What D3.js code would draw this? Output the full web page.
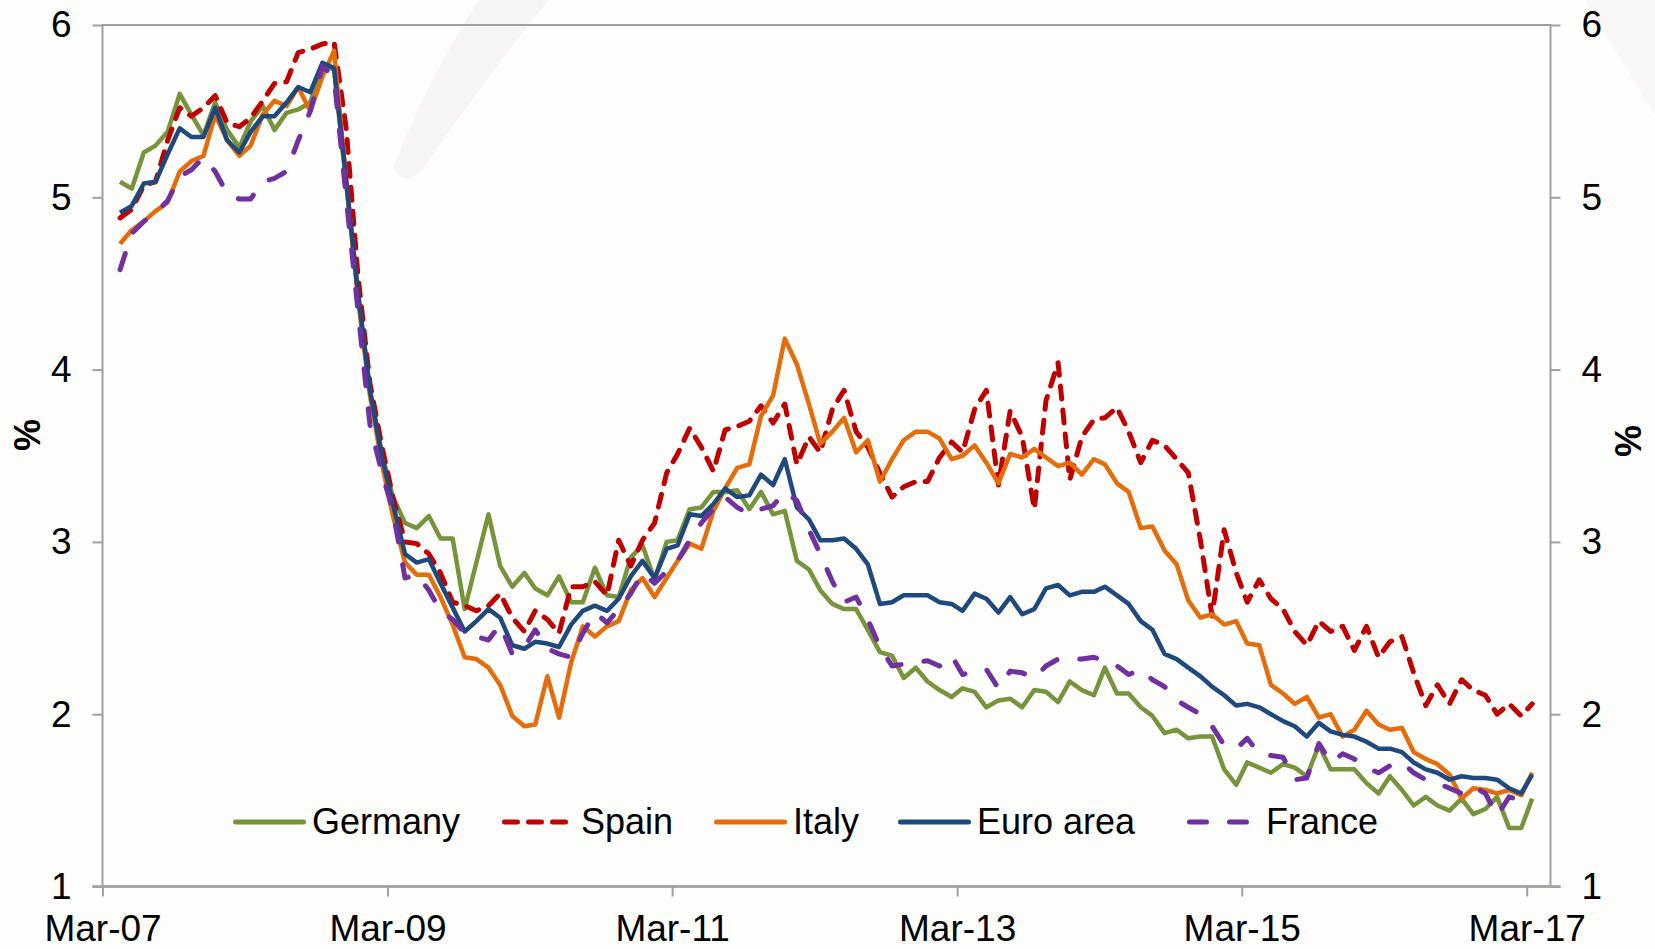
<!DOCTYPE html>
<html>
<head>
<meta charset="utf-8">
<script src="https://cdn.jsdelivr.net/npm/d3@7"></script>
<style>
  body { margin: 0; background: #fdfdfc; }
  svg text { font-family: "Liberation Sans", Arial, sans-serif; fill: #000; }
</style>
</head>
<body>
<svg id="chart" width="1655" height="949"></svg>
<script>
// monthly yields, Apr-07 .. Mar-17 (%)
var firstMonth = '2007-04';
var lastMonth = '2017-03';

var germany = [5.09, 5.05, 5.26, 5.30, 5.38, 5.60, 5.48, 5.36, 5.55, 5.39, 5.29, 5.44, 5.53, 5.39, 5.49, 5.51, 5.55, 5.77, 5.74, 5.08,
    4.45, 3.88, 3.51, 3.26, 3.11, 3.08, 3.15, 3.02, 3.02, 2.61, 2.88, 3.16, 2.86, 2.74, 2.82, 2.73, 2.69, 2.80, 2.65, 2.65,
    2.85, 2.69, 2.68, 2.91, 2.98, 2.78, 3.00, 3.01, 3.19, 3.20, 3.29, 3.29, 3.30, 3.19, 3.29, 3.16, 3.18, 2.89, 2.84, 2.72,
    2.64, 2.61, 2.61, 2.49, 2.36, 2.34, 2.21, 2.27, 2.19, 2.14, 2.10, 2.15, 2.13, 2.04, 2.08, 2.09, 2.04, 2.14, 2.13, 2.07,
    2.19, 2.14, 2.11, 2.27, 2.12, 2.12, 2.04, 1.99, 1.89, 1.91, 1.86, 1.87, 1.87, 1.68, 1.59, 1.72, 1.69, 1.66, 1.71, 1.69,
    1.64, 1.82, 1.68, 1.68, 1.68, 1.60, 1.54, 1.64, 1.56, 1.47, 1.52, 1.47, 1.44, 1.51, 1.42, 1.45, 1.52, 1.34, 1.34, 1.51];

var spain = [4.88, 4.93, 5.07, 5.09, 5.33, 5.52, 5.47, 5.52, 5.59, 5.43, 5.41, 5.46, 5.56, 5.66, 5.67, 5.84, 5.86, 5.89, 5.90, 5.40,
    4.55, 3.92, 3.55, 3.26, 3.00, 2.99, 2.93, 2.82, 2.65, 2.63, 2.60, 2.63, 2.70, 2.56, 2.48, 2.60, 2.55, 2.47, 2.74, 2.74,
    2.77, 2.69, 3.01, 2.86, 3.01, 3.11, 3.40, 3.51, 3.66, 3.55, 3.41, 3.65, 3.67, 3.70, 3.79, 3.69, 3.80, 3.45, 3.61, 3.52,
    3.77, 3.88, 3.64, 3.55, 3.40, 3.26, 3.32, 3.35, 3.35, 3.49, 3.58, 3.52, 3.77, 3.88, 3.33, 3.76, 3.61, 3.19, 3.82, 4.04,
    3.36, 3.61, 3.71, 3.72, 3.78, 3.64, 3.46, 3.59, 3.56, 3.48, 3.40, 3.01, 2.57, 3.07, 2.82, 2.65, 2.78, 2.67, 2.61, 2.48,
    2.40, 2.54, 2.48, 2.51, 2.37, 2.51, 2.33, 2.42, 2.45, 2.24, 2.05, 2.17, 2.06, 2.20, 2.14, 2.11, 2.00, 2.06, 1.99, 2.06];

var italy = [4.73, 4.81, 4.86, 4.92, 4.97, 5.15, 5.21, 5.24, 5.48, 5.33, 5.24, 5.30, 5.48, 5.56, 5.53, 5.64, 5.50, 5.70, 5.85, 5.10,
    4.42, 3.85, 3.45, 3.15, 2.88, 2.81, 2.81, 2.68, 2.52, 2.33, 2.32, 2.27, 2.17, 1.99, 1.93, 1.94, 2.22, 1.98, 2.30, 2.51,
    2.45, 2.51, 2.54, 2.72, 2.79, 2.68, 2.79, 2.89, 2.99, 2.96, 3.18, 3.31, 3.43, 3.45, 3.73, 3.85, 4.18, 4.03, 3.80, 3.57,
    3.64, 3.72, 3.52, 3.59, 3.35, 3.48, 3.59, 3.64, 3.64, 3.60, 3.48, 3.50, 3.56, 3.46, 3.34, 3.51, 3.49, 3.54, 3.49, 3.44,
    3.46, 3.39, 3.48, 3.45, 3.34, 3.29, 3.08, 3.09, 2.95, 2.87, 2.66, 2.56, 2.58, 2.52, 2.54, 2.41, 2.40, 2.17, 2.12, 2.06,
    2.10, 1.98, 2.00, 1.87, 1.91, 2.02, 1.94, 1.91, 1.92, 1.78, 1.74, 1.71, 1.65, 1.51, 1.57, 1.56, 1.54, 1.56, 1.53, 1.66];

var euroArea = [4.91, 4.95, 5.08, 5.09, 5.25, 5.40, 5.35, 5.35, 5.52, 5.33, 5.26, 5.38, 5.47, 5.47, 5.55, 5.64, 5.61, 5.78, 5.75, 5.10,
    4.45, 3.88, 3.49, 3.22, 2.93, 2.88, 2.90, 2.76, 2.62, 2.48, 2.54, 2.61, 2.56, 2.40, 2.38, 2.42, 2.41, 2.39, 2.52, 2.60,
    2.63, 2.60, 2.67, 2.80, 2.89, 2.79, 2.96, 2.98, 3.16, 3.15, 3.22, 3.31, 3.26, 3.27, 3.39, 3.33, 3.48, 3.20, 3.13, 3.01,
    3.01, 3.02, 2.96, 2.87, 2.64, 2.65, 2.69, 2.69, 2.69, 2.65, 2.64, 2.60, 2.70, 2.67, 2.59, 2.68, 2.58, 2.61, 2.73, 2.75,
    2.69, 2.71, 2.71, 2.74, 2.69, 2.64, 2.54, 2.49, 2.35, 2.32, 2.27, 2.22, 2.16, 2.11, 2.05, 2.06, 2.04, 2.00, 1.96, 1.93,
    1.87, 1.95, 1.90, 1.88, 1.87, 1.84, 1.80, 1.80, 1.78, 1.72, 1.68, 1.66, 1.62, 1.64, 1.63, 1.63, 1.62, 1.57, 1.54, 1.65];

var france = [4.58, 4.79, 4.86, 4.91, 4.98, 5.12, 5.16, 5.23, 5.15, 5.02, 4.99, 4.99, 5.09, 5.11, 5.15, 5.33, 5.50, 5.76, 5.70, 5.00,
    4.35, 3.68, 3.40, 3.18, 2.79, 2.81, 2.72, 2.60, 2.55, 2.47, 2.45, 2.43, 2.52, 2.35, 2.39, 2.49, 2.38, 2.35, 2.33, 2.47,
    2.59, 2.53, 2.61, 2.70, 2.82, 2.76, 2.83, 2.89, 3.01, 3.11, 3.19, 3.26, 3.20, 3.16, 3.19, 3.21, 3.29, 3.24, 3.07, 2.93,
    2.77, 2.65, 2.68, 2.55, 2.39, 2.28, 2.29, 2.30, 2.31, 2.28, 2.34, 2.23, 2.25, 2.26, 2.15, 2.25, 2.24, 2.21, 2.28, 2.32,
    2.32, 2.32, 2.33, 2.31, 2.28, 2.23, 2.26, 2.20, 2.16, 2.08, 2.04, 2.00, 1.93, 1.82, 1.80, 1.86, 1.77, 1.76, 1.75, 1.62,
    1.63, 1.83, 1.72, 1.77, 1.74, 1.69, 1.66, 1.70, 1.72, 1.66, 1.62, 1.60, 1.57, 1.54, 1.58, 1.54, 1.41, 1.52, 1.50, 1.51];

var seriesNames = ['Germany', 'Spain', 'Italy', 'Euro area', 'France'];
var seriesColors = ['#77933c', '#c00000', '#e46c0a', '#1f497d', '#7030a0'];
var seriesDash = [null, '13,11', null, null, '17,23'];

var yTicks = [1, 2, 3, 4, 5, 6];
var xTickLabels = ['Mar-07', 'Mar-09', 'Mar-11', 'Mar-13', 'Mar-15', 'Mar-17'];

// layout
var plotLeft = 102.5, plotRight = 1550.5, plotTop = 25, plotBottom = 886.5;
var legendX = [235.5, 504.5, 716.5, 900.5, 1189.5];
var legendY = 822;

var parseMonth = d3.utcParse('%Y-%m');
var parseLabel = d3.utcParse('%b-%y');
var months = d3.utcMonth.range(parseMonth(firstMonth), d3.utcMonth.offset(parseMonth(lastMonth), 1));
// each monthly value sits mid-month
var dates = months.map(function (m) { return d3.utcDay.offset(m, 14); });

var allSeries = [germany, spain, italy, euroArea, france].map(function (vals, k) {
    return {
        name: seriesNames[k],
        color: seriesColors[k],
        dash: seriesDash[k],
        values: vals.map(function (v, i) { return { date: dates[i], v: v }; })
    };
});

var svg = d3.select('#chart');

// faint watermark swoosh behind the chart
svg.append('path')
    .attr('d', 'M 394 166 C 420 100, 450 45, 482 -5 L 553 -5 C 510 45, 465 110, 420 172 C 412 182, 396 180, 394 166 Z')
    .attr('fill', '#f6f5f4');
svg.append('path')
    .attr('d', 'M 1585 0 L 1655 0 L 1655 115 Z')
    .attr('fill', '#f8f7f6');

var x = d3.scaleUtc()
    .domain([parseMonth('2007-03'), parseMonth('2017-05')])
    .range([plotLeft, plotRight]);

var y = d3.scaleLinear()
    .domain([1, 6])
    .range([plotBottom, plotTop]);

var axisColor = '#a0a0a0';

// plot frame
svg.append('rect')
    .attr('x', plotLeft)
    .attr('y', plotTop)
    .attr('width', plotRight - plotLeft)
    .attr('height', plotBottom - plotTop)
    .attr('fill', 'none')
    .attr('stroke', axisColor)
    .attr('stroke-width', 2);

function styleAxis(g, size) {
    g.select('.domain').remove();
    g.selectAll('.tick line').attr('stroke', axisColor).attr('stroke-width', 2);
    g.selectAll('.tick text')
        .attr('font-size', size)
        .attr('fill', '#000')
        .style('font-family', '"Liberation Sans", Arial, sans-serif');
}

svg.append('g')
    .attr('transform', 'translate(' + plotLeft + ',0)')
    .call(d3.axisLeft(y).tickValues(yTicks).tickFormat(d3.format('d')).tickSize(10).tickPadding(21))
    .call(styleAxis, 37);

svg.append('g')
    .attr('transform', 'translate(' + plotRight + ',0)')
    .call(d3.axisRight(y).tickValues(yTicks).tickFormat(d3.format('d')).tickSize(10).tickPadding(21))
    .call(styleAxis, 37);

svg.append('g')
    .attr('transform', 'translate(0,' + plotBottom + ')')
    .call(d3.axisBottom(x)
        .tickValues(xTickLabels.map(function (s) { return parseLabel(s); }))
        .tickFormat(d3.utcFormat('%b-%y'))
        .tickSize(10)
        .tickPadding(18))
    .call(styleAxis, 37);

// slightly heavier baseline
svg.append('line')
    .attr('x1', plotLeft - 10).attr('x2', plotRight + 10)
    .attr('y1', plotBottom).attr('y2', plotBottom)
    .attr('stroke', axisColor)
    .attr('stroke-width', 2.5);

// % labels
svg.append('text')
    .attr('transform', 'translate(27,435) rotate(-90)')
    .attr('text-anchor', 'middle')
    .attr('dominant-baseline', 'central')
    .attr('font-size', 36)
    .attr('font-weight', 'bold')
    .text('%');

svg.append('text')
    .attr('transform', 'translate(1627,441) rotate(90)')
    .attr('text-anchor', 'middle')
    .attr('dominant-baseline', 'central')
    .attr('font-size', 36)
    .attr('font-weight', 'bold')
    .text('%');

// lines
var line = d3.line()
    .x(function (d) { return x(d.date); })
    .y(function (d) { return y(d.v); });

svg.append('g')
    .selectAll('path')
    .data(allSeries)
    .enter()
    .append('path')
    .attr('d', function (d) { return line(d.values); })
    .attr('fill', 'none')
    .attr('stroke', function (d) { return d.color; })
    .attr('stroke-width', function (d) { return d.dash ? 5 : 4.5; })
    .attr('stroke-linejoin', 'round')
    .attr('stroke-linecap', function (d) { return d.dash ? 'round' : 'butt'; })
    .attr('stroke-dasharray', function (d) { return d.dash; });

// legend
var legend = svg.append('g')
    .selectAll('g')
    .data(allSeries)
    .enter()
    .append('g')
    .attr('transform', function (d, i) { return 'translate(' + legendX[i] + ',' + legendY + ')'; });

legend.append('line')
    .attr('x1', 0)
    .attr('x2', 68)
    .attr('stroke', function (d) { return d.color; })
    .attr('stroke-width', 5)
    .attr('stroke-linecap', 'round')
    .attr('stroke-dasharray', function (d) { return d.dash; });

legend.append('text')
    .attr('x', 76.5)
    .attr('y', 12)
    .attr('font-size', 36)
    .text(function (d) { return d.name; });
</script>
</body>
</html>
